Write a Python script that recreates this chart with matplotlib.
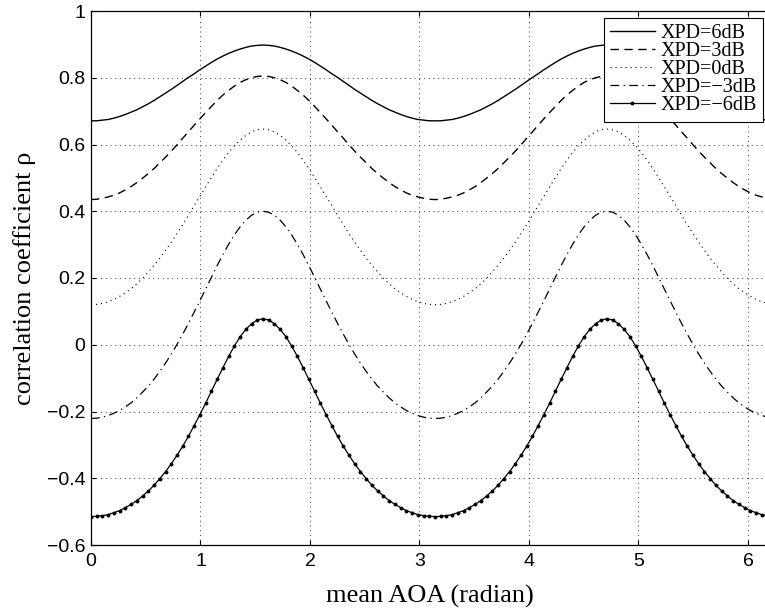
import numpy as np
import matplotlib.pyplot as plt

# 1. Values for one quarter period (0 .. pi/2);
#    the curves repeat symmetrically over the rest of 0 .. 2*pi
aoa_quarter = np.linspace(0, np.pi / 2, 31)

rho_p6 = [0.671, 0.671, 0.673, 0.675, 0.679, 0.684, 0.690, 0.697, 0.704, 0.713,
          0.722, 0.732, 0.743, 0.754, 0.765, 0.777, 0.789, 0.801, 0.812, 0.824,
          0.835, 0.846, 0.856, 0.865, 0.873, 0.880, 0.886, 0.891, 0.895, 0.897, 0.898]
rho_p3 = [0.435, 0.436, 0.439, 0.443, 0.448, 0.455, 0.464, 0.474, 0.486, 0.499,
          0.513, 0.528, 0.545, 0.562, 0.580, 0.599, 0.619, 0.638, 0.658, 0.677,
          0.696, 0.714, 0.732, 0.748, 0.762, 0.775, 0.786, 0.794, 0.800, 0.804, 0.805]
rho_0 = [0.120, 0.121, 0.124, 0.129, 0.136, 0.145, 0.156, 0.168, 0.183, 0.199,
         0.218, 0.238, 0.259, 0.283, 0.307, 0.333, 0.360, 0.388, 0.417, 0.445,
         0.473, 0.501, 0.528, 0.553, 0.576, 0.596, 0.613, 0.627, 0.638, 0.644, 0.646]
rho_m3 = [-0.221, -0.220, -0.217, -0.212, -0.205, -0.197, -0.186, -0.174, -0.159, -0.142,
          -0.124, -0.103, -0.080, -0.055, -0.028, 0.001, 0.032, 0.064, 0.098, 0.132,
          0.167, 0.202, 0.237, 0.270, 0.301, 0.329, 0.353, 0.373, 0.388, 0.397, 0.400]
rho_m6 = [-0.515, -0.514, -0.512, -0.509, -0.503, -0.497, -0.488, -0.478, -0.467, -0.453,
          -0.438, -0.421, -0.401, -0.380, -0.357, -0.331, -0.304, -0.274, -0.242, -0.209,
          -0.175, -0.139, -0.104, -0.069, -0.035, -0.004, 0.024, 0.046, 0.063, 0.074, 0.078]

labels = ['XPD=6dB', 'XPD=3dB', 'XPD=0dB', 'XPD=\u22123dB', 'XPD=\u22126dB']
x_ticks = [0, 1, 2, 3, 4, 5, 6]
y_ticks = [-0.6, -0.4, -0.2, 0, 0.2, 0.4, 0.6, 0.8, 1]
y_ticklabels = ['\u22120.6', '\u22120.4', '\u22120.2', '0', '0.2', '0.4', '0.6', '0.8', '1']


def unfold(v):
    # mirror the quarter period onto 0 .. 2*pi
    v = np.asarray(v)
    return np.concatenate([v, v[-2::-1], v[1:], v[-2::-1]])


q = aoa_quarter
aoa = np.concatenate([q, np.pi - q[-2::-1], np.pi + q[1:], 2 * np.pi - q[-2::-1]])

# 2. Figure (axes runs to 2*pi, the right part is cut by the figure edge)
fig = plt.figure(figsize=(7.65, 6.10), dpi=100)
ax = fig.add_axes([91 / 765, 65 / 610, 688 / 765, 534 / 610])

ax.plot(aoa, unfold(rho_p6), color='black', lw=1.0, label=labels[0])
ax.plot(aoa, unfold(rho_p3), color='black', lw=1.0, linestyle=(0, (6, 4)), label=labels[1])
ax.plot(aoa, unfold(rho_0), color='black', lw=0.8, linestyle=(0, (1, 3.5)), label=labels[2])
ax.plot(aoa, unfold(rho_m3), color='black', lw=0.9, linestyle=(0, (7, 3.5, 1, 3.5)), label=labels[3])
ax.plot(aoa, unfold(rho_m6), color='black', lw=0.9, marker='o', ms=1.8, label=labels[4])

ax.set_xlim(0, 2 * np.pi)
ax.set_ylim(-0.6, 1)
ax.set_xticks(x_ticks)
ax.set_xticklabels([str(t) for t in x_ticks], fontfamily='Liberation Sans', fontsize=14)
ax.set_yticks(y_ticks)
ax.set_yticklabels(y_ticklabels, fontfamily='Liberation Sans', fontsize=14)
ax.tick_params(direction='in', top=True, right=True, length=3.6, width=0.8)
ax.tick_params(axis='x', pad=6)
ax.tick_params(axis='y', pad=4)
for s in ax.spines.values():
    s.set_linewidth(0.9)

# 3. Dotted MATLAB-like grid
ax.grid(True, color='0.15', lw=0.6, linestyle=(0, (1.2, 4.5)))

fig.text(430 / 765, 1 - 603 / 610, 'mean AOA (radian)', ha='center', va='baseline',
         fontfamily='Liberation Serif', fontsize=19)
fig.text(25 / 765, 1 - 278 / 610, 'correlation coefficient \u03c1', ha='center', va='center',
         rotation=90, fontfamily='Liberation Serif', fontsize=19)

leg = ax.legend(loc='upper right', bbox_to_anchor=(763 / 765, 1 - 18 / 610),
                bbox_transform=fig.transFigure, borderaxespad=0, fancybox=False,
                framealpha=1, edgecolor='black', handlelength=2.2, handletextpad=0.3,
                labelspacing=-0.05, borderpad=0.3,
                prop={'family': 'Liberation Serif', 'size': 14.5})
leg.get_frame().set_linewidth(0.8)

fig.savefig('out.png', dpi=100)
